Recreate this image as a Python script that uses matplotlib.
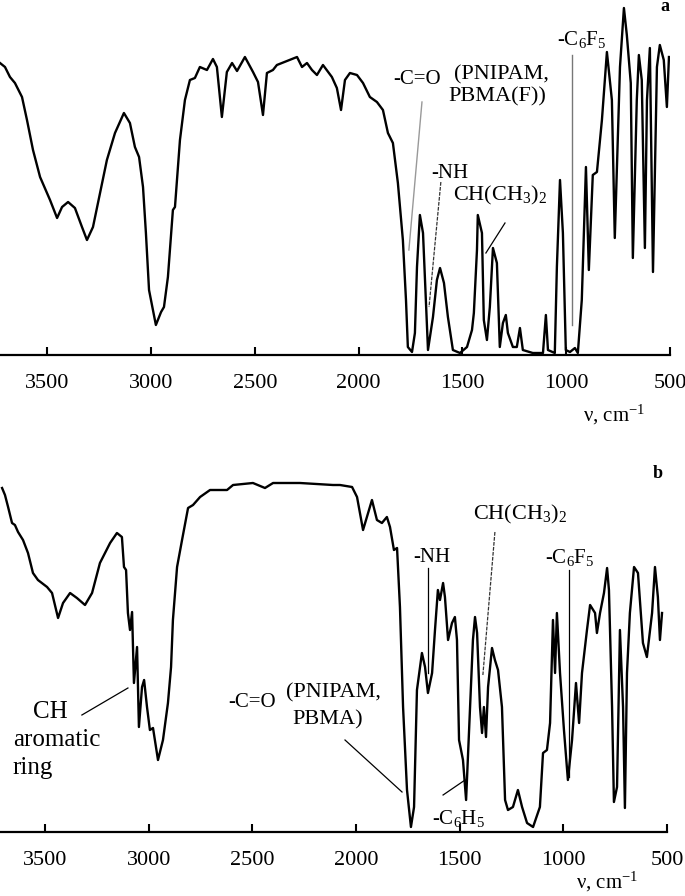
import matplotlib
matplotlib.use("Agg")
import matplotlib.pyplot as plt

plt.rcParams["font.family"] = ["Liberation Serif", "DejaVu Serif"]
plt.rcParams["mathtext.fontset"] = "custom"
plt.rcParams["mathtext.rm"] = "Liberation Serif"
plt.rcParams["mathtext.it"] = "Liberation Serif:italic"
plt.rcParams["mathtext.bf"] = "Liberation Serif:bold"

# panel a: wavenumber (cm-1) and transmittance (a.u.)
WN_A = [3728, 3704, 3680, 3656, 3622, 3598, 3569, 3535, 3487, 3453,
        3429, 3400, 3367, 3333, 3309, 3280, 3246, 3213, 3174, 3131,
        3102, 3078, 3058, 3039, 3025, 3010, 2977, 2952, 2938, 2919,
        2895, 2885, 2861, 2837, 2813, 2789, 2765, 2731, 2702, 2683,
        2659, 2635, 2610, 2586, 2548, 2509, 2485, 2461, 2442, 2413,
        2394, 2297, 2273, 2249, 2225, 2201, 2172, 2129, 2105, 2085,
        2066, 2042, 2008, 1979, 1946, 1912, 1883, 1859, 1835, 1811,
        1787, 1772, 1763, 1743, 1729, 1719, 1705, 1690, 1676, 1666,
        1642, 1623, 1608, 1589, 1570, 1546, 1512, 1478, 1454, 1445,
        1430, 1426, 1406, 1397, 1382, 1368, 1353, 1334, 1320, 1305,
        1291, 1281, 1257, 1238, 1223, 1209, 1161, 1112, 1098, 1088,
        1055, 1045, 1030, 1016, 1002, 982, 958, 944, 925, 905,
        891, 872, 852, 828, 804, 780, 766, 741, 722, 708,
        689, 679, 660, 650, 636, 621, 611, 597, 582, 563,
        549, 530, 515, 505]
T_A = [292, 288, 278, 272, 258, 235, 205, 178, 155, 137,
       148, 153, 147, 128, 115, 128, 162, 195, 222, 242,
       232, 208, 198, 168, 122, 65, 30, 43, 48, 78,
       145, 148, 215, 255, 275, 277, 288, 285, 296, 288,
       238, 283, 292, 284, 298, 283, 273, 240, 282, 285,
       290, 298, 288, 292, 285, 280, 290, 278, 267, 245,
       275, 282, 280, 272, 258, 253, 245, 222, 212, 172,
       115, 55, 8, 3, 22, 88, 140, 122, 55, 5,
       38, 75, 87, 72, 38, 5, 2, 8, 25, 42,
       105, 140, 122, 35, 15, 48, 107, 92, 8, 32,
       40, 22, 8, 8, 27, 5, 2, 2, 40, 5,
       2, 88, 175, 122, 5, 3, 7, 2, 55, 188,
       85, 180, 183, 235, 303, 255, 117, 288, 347, 320,
       272, 97, 255, 300, 275, 107, 255, 307, 83, 288,
       310, 295, 248, 298]

# panel b
WN_B = [3707, 3693, 3678, 3659, 3645, 3630, 3606, 3582, 3558, 3534,
        3490, 3466, 3437, 3413, 3379, 3346, 3307, 3273, 3235, 3186,
        3153, 3129, 3119, 3109, 3100, 3090, 3080, 3071, 3056, 3047,
        3032, 3022, 3008, 2994, 2979, 2955, 2931, 2907, 2892, 2883,
        2863, 2839, 2810, 2786, 2752, 2704, 2622, 2593, 2497, 2439,
        2400, 2270, 2111,
        2077, 2019, 1995, 1966, 1923, 1899, 1875, 1851, 1836, 1817,
        1802, 1788, 1773, 1754, 1735, 1720, 1706, 1682, 1667, 1653,
        1633, 1619, 1605, 1595, 1580, 1571, 1556, 1537, 1523, 1513,
        1503, 1484, 1469, 1450, 1436, 1426, 1416, 1402, 1392, 1383,
        1373, 1363, 1344, 1330, 1315, 1296, 1281, 1267, 1243, 1219,
        1199, 1175, 1146, 1113, 1098, 1079, 1064, 1050, 1040, 1031,
        1016, 997, 978, 958, 939, 924, 910, 886, 871, 847,
        838, 823, 804, 789, 780, 765, 756, 741, 727, 712,
        703, 693, 679, 659, 640, 616, 597, 572, 558, 544,
        534, 524]
T_B = [344, 337, 325, 309, 307, 300, 292, 279, 259, 252,
       245, 239, 214, 229, 239, 234, 227, 239, 269, 289,
       299, 295, 265, 262, 219, 202, 220, 149, 185, 105,
       145, 152, 125, 102, 104, 72, 92, 129, 165, 212,
       265, 292, 324, 327, 335, 342, 342, 347, 349, 344,
       349, 349, 347,
       347, 345, 335, 302, 332, 312, 309, 315, 305, 282,
       284, 225, 125, 42, 5, 25, 142, 179, 165, 139,
       159, 202, 242, 232, 249, 235, 192, 209, 215, 192,
       92, 72, 32, 125, 192, 215, 199, 125, 99, 125,
       95, 145, 184, 172, 162, 125, 32, 22, 25, 42,
       25, 9, 5, 25, 79, 82, 109, 212, 159, 219,
       159, 102, 52, 92, 149, 109, 159, 202, 227, 219,
       199, 219, 239, 264, 242, 125, 30, 45, 202, 125,
       24, 159, 219, 265, 259, 189, 175, 219, 265, 235,
       192, 219]

TICKS = [3500, 3000, 2500, 2000, 1500, 1000, 500]

W, H = 685, 896
fig = plt.figure(figsize=(W / 100, H / 100), dpi=100)


def style_axis(ax, xlim, ymax):
    ax.set_xlim(*xlim)
    ax.set_ylim(0, ymax)
    for side in ("left", "right", "top"):
        ax.spines[side].set_visible(False)
    ax.spines["bottom"].set_linewidth(1.6)
    ax.set_yticks([])
    ax.set_xticks(TICKS)
    ax.tick_params(axis="x", direction="in", length=6, width=1.5,
                   labelsize=16, pad=14)
    ax.patch.set_alpha(0)


# panel a
ax_a = fig.add_axes([0, 1 - 355 / H, 670 / W, 355 / H])
ax_a.plot(WN_A, T_A, color="black", lw=1.7, solid_joinstyle="round")
style_axis(ax_a, (3728, 500), 355)

txt = dict(fontsize=15, ha="center", va="center")
ax_a.text(1719, 275, "-C=O", **txt)
ax_a.text(1312, 280, "(PNIPAM,", fontsize=16, ha="center", va="center")
ax_a.text(1334, 258, "PBMA(F))", fontsize=16, ha="center", va="center")
ax_a.text(1560, 182, "-NH", **txt)
ax_a.text(1320, 160, "CH(CH$_3$)$_2$", fontsize=16, ha="center", va="center")
ax_a.text(925, 315, "-C$_6$F$_5$", **txt)
ax_a.text(525, 348, "a", fontsize=13, fontweight="bold", ha="center", va="center")
ax_a.plot([1695, 1758], [253, 105], color="#999999", lw=1.0)
ax_a.plot([1604, 1661], [173, 48], color="#333333", lw=0.9, ls=(0, (3, 1)))
ax_a.plot([1295, 1387], [132, 102], color="black", lw=0.9)
ax_a.plot([973, 973], [300, 30], color="#777777", lw=1.0)

# panel b
ax_b = fig.add_axes([0, 1 - 832 / H, 667 / W, 392 / H])
ax_b.plot(WN_B, T_B, color="black", lw=1.7, solid_joinstyle="round")
style_axis(ax_b, (3717, 500), 392)

ax_b.text(3476, 120, "CH", fontsize=18, ha="center", va="center")
ax_b.text(3442, 92, "aromatic", fontsize=18, ha="center", va="center")
ax_b.text(3659, 64, "ring", fontsize=18, ha="left", va="center")
ax_b.plot([3322, 3100], [117, 144], color="black", lw=0.9)
ax_b.text(2502, 130, "-C=O", **txt)
ax_b.text(2111, 139, "(PNIPAM,", fontsize=16, ha="center", va="center")
ax_b.text(2135, 112, "PBMA)", fontsize=16, ha="center", va="center")
ax_b.plot([2053, 1778], [92, 40], color="black", lw=0.9)
ax_b.text(1508, 14, "-C$_6$H$_5$", **txt)
ax_b.plot([1580, 1474], [37, 52], color="black", lw=0.9)
ax_b.text(1634, 275, "-NH", **txt)
ax_b.plot([1653, 1653], [264, 159], color="black", lw=0.9)
ax_b.text(1209, 318, "CH(CH$_3$)$_2$", fontsize=16, ha="center", va="center")
ax_b.plot([1330, 1388], [300, 157], color="#333333", lw=0.9, ls=(0, (3, 1)))
ax_b.text(968, 275, "-C$_6$F$_5$", **txt)
ax_b.plot([973, 973], [262, 55], color="black", lw=0.9)
ax_b.text(543, 359, "b", fontsize=13, fontweight="bold", ha="center", va="center")

fig.text(614 / W, 1 - 415 / H, "ν, cm$^{-1}$", fontsize=15, ha="center", va="center")
fig.text(607 / W, 1 - 882 / H, "ν, cm$^{-1}$", fontsize=15, ha="center", va="center")

fig.savefig("out.png", dpi=100)
